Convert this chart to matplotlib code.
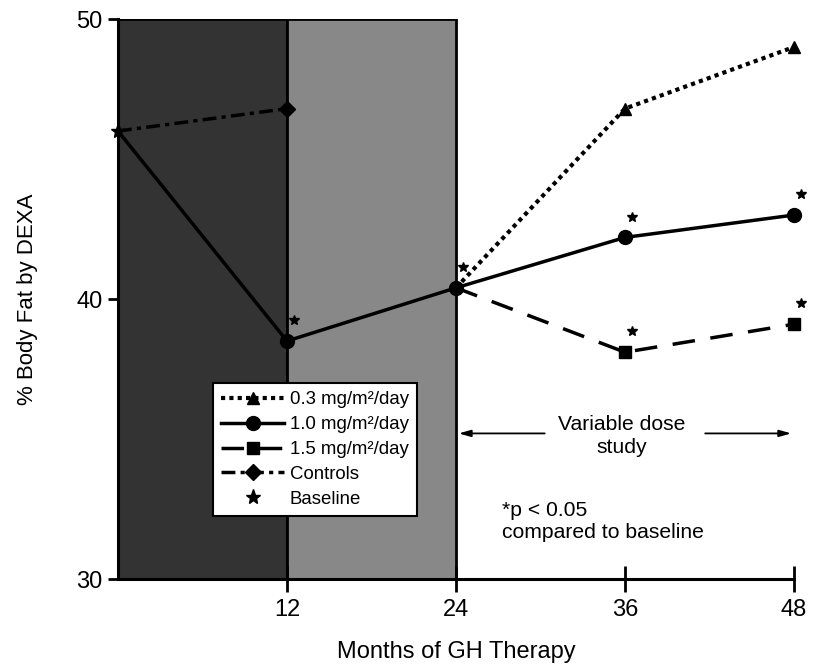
import matplotlib.pyplot as plt
import matplotlib.transforms as mtrans

plt.rcParams['font.family'] = ['Liberation Sans', 'DejaVu Sans']

# data
months_dose = [24, 36, 48]
dose_03 = [40.4, 46.8, 49.0]
dose_15 = [40.4, 38.1, 39.1]
months_10 = [0, 12, 24, 36, 48]
dose_10 = [46.0, 38.5, 40.4, 42.2, 43.0]
months_ctrl = [0, 12]
controls = [46.0, 46.8]
baseline_x = [0]
baseline_y = [46.0]

# points marked * (p < 0.05)
sig_x = [12, 24, 36, 48, 36, 48]
sig_y = [38.5, 40.4, 42.2, 43.0, 38.1, 39.1]

xticks = [12, 24, 36, 48]
yticks = [30, 40, 50]

fig = plt.figure(figsize=(8.13, 6.70), dpi=100)
ax = fig.add_axes([0.1451, 0.1358, 0.8315, 0.8358])

ax.axvspan(0, 12, facecolor='#333333', edgecolor='black', lw=2, zorder=0)
ax.axvspan(12, 24, facecolor='#888888', edgecolor='black', lw=2, zorder=0)

ax.plot(months_dose, dose_03, color='black', ls=(0, (1, 1)), lw=3,
        marker='^', ms=9, markevery=[1, 2], clip_on=False,
        label='0.3 mg/m²/day')
ax.plot(months_10, dose_10, color='black', ls='-', lw=2.5,
        marker='o', ms=10, markevery=[1, 2, 3, 4], clip_on=False,
        label='1.0 mg/m²/day')
ax.plot(months_dose, dose_15, color='black', ls=(0, (6.5, 4.5)), lw=2.5,
        marker='s', ms=8, markevery=[1, 2], clip_on=False,
        label='1.5 mg/m²/day')
ax.plot(months_ctrl, controls, color='black', ls=(0, (4, 1.5, 1.2, 1.5)), lw=2.5,
        marker='D', ms=8, markevery=[1], clip_on=False, label='Controls')
ax.plot(baseline_x, baseline_y, ls='none', color='black', marker='*', ms=11,
        clip_on=False, label='Baseline')

# significance stars, shifted up-right of the points
trans = mtrans.offset_copy(ax.transData, fig=fig, x=5, y=15, units='points')
ax.plot(sig_x, sig_y, ls='none', marker='*', ms=7, color='black',
        transform=trans, clip_on=False)

ax.set_xlim(0, 48)
ax.set_ylim(30, 50)
ax.set_xticks(xticks)
ax.set_yticks(yticks)
ax.tick_params(axis='x', direction='inout', length=19, width=2, labelsize=17, pad=5)
ax.tick_params(axis='y', direction='out', length=7, width=2, labelsize=17, pad=4)
for s in ['top', 'right']:
    ax.spines[s].set_visible(False)
for s in ['left', 'bottom']:
    ax.spines[s].set_linewidth(2.2)

ax.set_xlabel('Months of GH Therapy', fontsize=17, labelpad=14)
ax.set_ylabel('% Body Fat by DEXA', fontsize=16, labelpad=28)

# variable dose arrows
arrow = dict(arrowstyle='-|>,head_length=0.7,head_width=0.2', color='black', lw=1.3)
ax.annotate('', xy=(24, 35.2), xytext=(30.5, 35.2), arrowprops=arrow)
ax.annotate('', xy=(48, 35.2), xytext=(41.5, 35.2), arrowprops=arrow)
ax.text(35.8, 35.1, 'Variable dose\nstudy', ha='center', va='center',
        fontsize=15.2, linespacing=1.25)
ax.text(27.3, 32.8, '*p < 0.05\ncompared to baseline', ha='left', va='top',
        fontsize=15.2, linespacing=1.2)

leg = ax.legend(loc='upper left', bbox_to_anchor=(0.14, 0.35), borderaxespad=0,
                fontsize=13.4, handlelength=3.4, handletextpad=0.3,
                labelspacing=0.42, borderpad=0.45, fancybox=False,
                framealpha=1, edgecolor='black')
leg.get_frame().set_linewidth(1.5)

fig.savefig('out.png', dpi=100)
